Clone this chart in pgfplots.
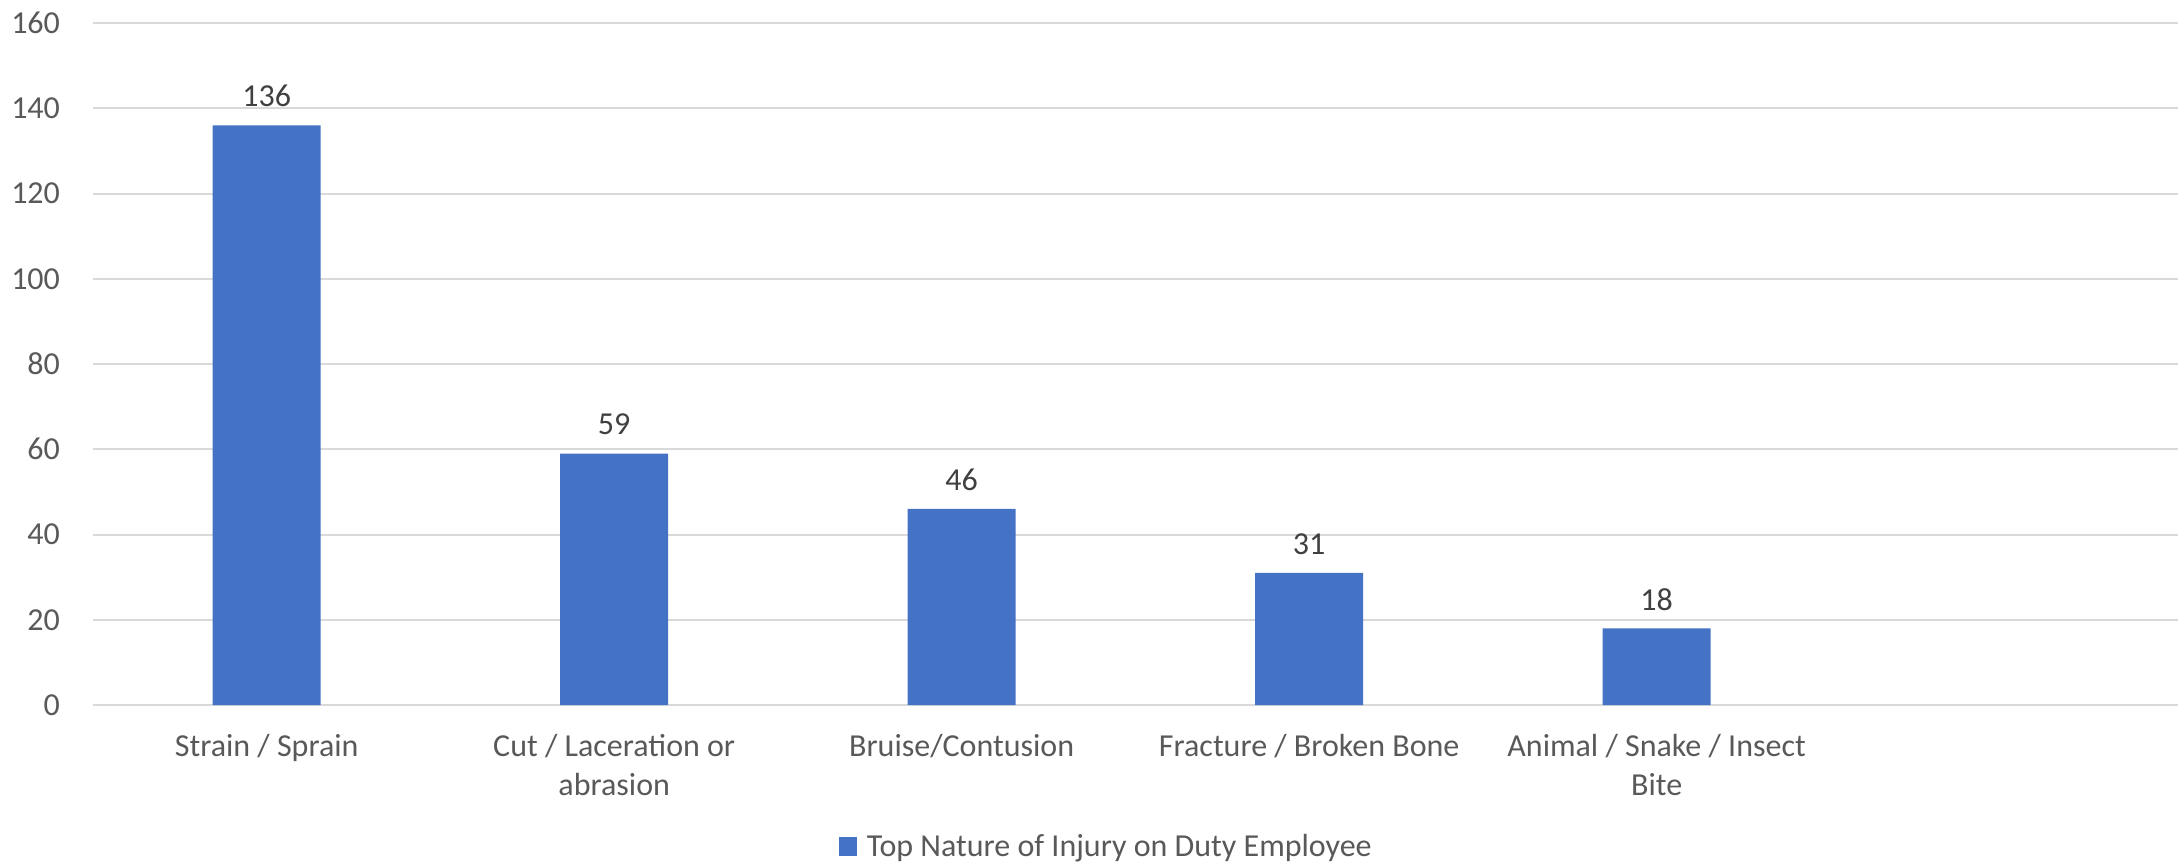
\documentclass[border=0pt]{standalone}
\usepackage{pgfplots}
\pgfplotsset{compat=1.18}
\usepackage{fontspec}
\setmainfont{Carlito}
\definecolor{barblue}{HTML}{4472C4}
\definecolor{ticktext}{HTML}{595959}
\definecolor{labeltext}{HTML}{404040}
\definecolor{gridgray}{HTML}{D9D9D9}
\begin{document}
\fontsize{16}{19.5}\selectfont
\begin{tikzpicture}
\useasboundingbox (-46.5pt,-79pt) rectangle (1045pt,352.5pt);
\begin{axis}[
  at={(0pt,0pt)}, anchor=south west,
  scale only axis,
  width=1042.5pt, height=341pt,
  xmin=-0.5, xmax=5.5, ymin=0, ymax=160,
  ytick={0,20,...,160},
  xtick={0,1,2,3,4},
  xticklabels={{Strain / Sprain},{Cut / Laceration or\\abrasion},{Bruise/Contusion},{Fracture / Broken Bone},{Animal / Snake / Insect\\Bite}},
  /pgf/number format/assume math mode=true,
  axis line style={draw=none},
  major tick length=0pt,
  ymajorgrids,
  grid style={gridgray, line width=1pt},
  tick label style={font=\fontsize{16}{19.5}\selectfont, text=ticktext},
  xticklabel style={align=center, anchor=north, yshift=-9pt},
  yticklabel style={anchor=east, xshift=-11pt},
  legend style={at={(0.4865,-0.2100)}, anchor=center, draw=none, fill=none,
    font=\fontsize{16}{19.5}\selectfont, text=ticktext, legend columns=1},
  legend image code/.code={\fill[barblue] (0pt,-3.9pt) rectangle (9pt,5.4pt); \path (12pt,0pt);},
  nodes near coords,
  every node near coord/.append style={font=\fontsize{16}{19.5}\selectfont, text=labeltext, anchor=center, yshift=14.5pt},
]
\addplot[ybar, bar width=54pt, fill=barblue, draw=none] coordinates {(0,136) (1,59) (2,46) (3,31) (4,18)};
\addlegendentry{Top Nature of Injury on Duty Employee}
\end{axis}
\end{tikzpicture}
\end{document}
